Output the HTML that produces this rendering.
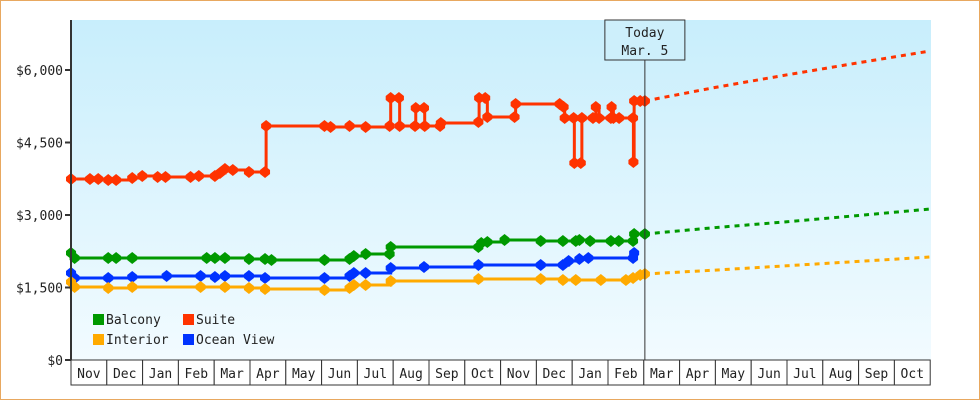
<!DOCTYPE html>
<html><head><meta charset="utf-8"><style>
html,body{margin:0;padding:0;background:#fff}
#wrap{position:relative;width:978px;height:398px;border:1px solid #e8a860;overflow:hidden}
svg text{font-family:"DejaVu Sans Mono","Liberation Mono",monospace;fill:#222}
</style></head><body>
<div id="wrap">
<svg id="chart" width="978" height="398" viewBox="1 1 978 398">
<defs><linearGradient id="bg" x1="0" y1="0" x2="0" y2="1"><stop offset="0" stop-color="#c8eefc"/><stop offset="1" stop-color="#f2fbff"/></linearGradient></defs>
<rect x="71" y="20" width="860" height="340" fill="url(#bg)"/>
<g id="grid"></g><g id="series"></g><g id="axes"></g>
</svg>
</div>
<script>
const months=["Nov","Dec","Jan","Feb","Mar","Apr","May","Jun","Jul","Aug","Sep","Oct","Nov","Dec","Jan","Feb","Mar","Apr","May","Jun","Jul","Aug","Sep","Oct"];
const yTicks=[0,1500,3000,4500,6000];
const todayMonth=16.03;
const suiteM=[0,0.53,0.76,1.04,1.26,1.71,1.99,2.42,2.64,3.34,3.57,4.02,4.16,4.30,4.52,4.97,5.42,5.45,7.08,7.25,7.78,8.23,8.90,8.93,9.16,9.18,9.61,9.63,9.86,9.88,10.31,10.33,11.38,11.40,11.57,11.63,12.39,12.42,13.65,13.76,13.79,14.04,14.06,14.24,14.27,14.58,14.66,14.75,15.08,15.10,15.15,15.31,15.70,15.71,15.73,15.9,16.03];
const suiteV=[3745,3745,3745,3724,3724,3766,3807,3786,3786,3786,3807,3807,3870,3952,3931,3890,3890,4841,4841,4821,4841,4821,4841,5421,5421,4841,4841,5214,5214,4841,4841,4904,4924,5421,5421,5028,5028,5297,5297,5235,5007,5007,4076,4076,5007,5007,5235,5007,5007,5235,5007,5007,5007,4097,5359,5359,5359];
const balconyM=[0,0.1,1.04,1.26,1.71,3.79,4.02,4.3,4.97,5.42,5.6,7.08,7.78,7.9,8.23,8.90,8.93,11.38,11.46,11.63,12.11,13.12,13.74,14.1,14.2,14.5,15.08,15.3,15.7,15.73,16.03];
const balconyV=[2214,2110,2110,2110,2110,2110,2110,2110,2090,2090,2069,2069,2090,2152,2193,2193,2338,2338,2421,2441,2483,2462,2462,2462,2483,2462,2462,2462,2462,2607,2607];
const oceanM=[0,0.1,1.04,1.71,2.67,3.62,4.02,4.3,4.97,5.42,7.08,7.78,7.9,8.23,8.93,9.86,11.38,13.12,13.74,13.9,14.2,14.45,15.70,15.73];
const oceanV=[1800,1697,1697,1717,1738,1738,1717,1738,1738,1697,1697,1738,1800,1800,1903,1924,1966,1966,1966,2048,2090,2110,2110,2214];
const interiorM=[0,0.1,1.04,1.71,3.62,4.3,4.97,5.42,7.08,7.78,7.9,8.23,8.93,11.38,13.12,13.74,14.1,14.8,15.5,15.70,15.9,16.03];
const interiorV=[1614,1510,1490,1510,1510,1510,1490,1469,1448,1490,1552,1552,1635,1676,1676,1655,1655,1655,1655,1697,1759,1779];
const forecastM=[16.03,18,20,22,24];
const suiteF=[5359,5640,5900,6150,6393];
const balconyF=[2607,2740,2860,2990,3124];
const interiorF=[1779,1860,1950,2040,2131];
const X=m=>71+m*35.8, Y=v=>360-v*290/6000;
const NS="http://www.w3.org/2000/svg";
function mk(t,a,p){const e=document.createElementNS(NS,t);for(const k in a)e.setAttribute(k,a[k]);(p||document.getElementById('series')).appendChild(e);return e;}
function series(ms,vs,col,name){
 let d="M"+X(ms[0])+","+Y(vs[0]);
 for(let i=1;i<ms.length;i++){d+=" H"+X(ms[i])+" V"+Y(vs[i]);}
 const p=mk('path',{d:d,fill:'none',stroke:col,'stroke-width':3});
 
 
 for(let i=0;i<ms.length;i++){const x=X(ms[i]),y=Y(vs[i]);
  const m=mk('polygon',{points:`${x},${y-6} ${x+5},${y-2} ${x+5},${y+2} ${x},${y+6} ${x-5},${y+2} ${x-5},${y-2}`,fill:col});
  
  }
}
function forecast(vs,col,name){
 const p=mk('polyline',{points:forecastM.map((m,i)=>X(m)+","+Y(vs[i])).join(" "),fill:'none',stroke:col,'stroke-width':3,'stroke-dasharray':'5,5'});
 
 
}
forecast(suiteF,'#ff3300','suite');forecast(balconyF,'#009900','balcony');forecast(interiorF,'#ffaa00','interior');
series(suiteM,suiteV,'#ff3300','suite');
series(balconyM,balconyV,'#009900','balcony');
series(oceanM,oceanV,'#0033ff','ocean-view');
series(interiorM,interiorV,'#ffaa00','interior');
const ax=document.getElementById('axes');
const tx=X(todayMonth);
let e=mk('line',{x1:tx,y1:60,x2:tx,y2:360,stroke:'#333','stroke-width':1},ax);

e=mk('rect',{x:tx-40,y:20,width:80,height:40,fill:'#cdeffb',stroke:'#333','stroke-width':1},ax);

e=mk('text',{x:tx,y:37,'text-anchor':'middle','font-size':13},ax);e.textContent='Today';

e=mk('text',{x:tx,y:55,'text-anchor':'middle','font-size':13},ax);e.textContent='Mar. 5';

e=mk('line',{x1:71,y1:20,x2:71,y2:361,stroke:'#333','stroke-width':2},ax);

yTicks.forEach(v=>{const y=Y(v);
 mk('line',{x1:65,y1:y,x2:71,y2:y,stroke:'#333','stroke-width':2},ax);
 const t=mk('text',{x:63,y:y+5,'text-anchor':'end','font-size':13},ax);
 t.textContent='$'+v.toLocaleString('en-US');
 
 });
months.forEach((m,i)=>{const x0=X(i),x1=X(i+1);
 const r=mk('rect',{x:x0,y:360,width:x1-x0,height:25,fill:'#fff',stroke:'#333','stroke-width':1},ax);
 
 
 const t=mk('text',{x:(x0+x1)/2,y:378,'text-anchor':'middle','font-size':13},ax);
 t.textContent=m;
 
 });
[['Balcony','#009900',93,314],['Suite','#ff3300',183,314],['Interior','#ffaa00',93,334],['Ocean View','#0033ff',183,334]].forEach(l=>{
 const g=mk('g',{},ax);
 
 
 mk('rect',{x:l[2],y:l[3],width:11,height:11,fill:l[1]},g);
 const t=mk('text',{x:l[2]+13,y:l[3]+10,'font-size':13},g);t.textContent=l[0];});
</script>
</body></html>
